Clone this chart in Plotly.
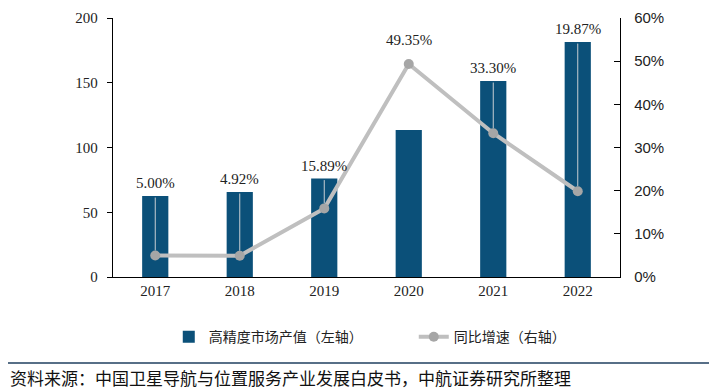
import plotly.graph_objects as go

years = ["2017", "2018", "2019", "2020", "2021", "2022"]
market_value = [62.5, 65.6, 76.0, 113.5, 151.3, 181.4]
growth_pct = [5.00, 4.92, 15.89, 49.35, 33.30, 19.87]
growth_labels = ["5.00%", "4.92%", "15.89%", "49.35%", "33.30%", "19.87%"]
left_ticks = [0, 50, 100, 150, 200]
right_ticks = [0, 10, 20, 30, 40, 50, 60]
right_tick_text = ["0%", "10%", "20%", "30%", "40%", "50%", "60%"]

BAR_COLOR = "#0B5079"
LINE_COLOR = "#BFBFBF"
MARKER_COLOR = "#A6A6A6"
SERIF = "Liberation Serif, Times New Roman, serif"
CJK = "Noto Sans CJK SC, sans-serif"

fig = go.Figure()
fig.add_trace(go.Bar(
    x=years, y=market_value, name="高精度市场产值（左轴）",
    marker=dict(color=BAR_COLOR, line=dict(width=0)), width=0.31,
    yaxis="y",
))
fig.add_trace(go.Scatter(
    x=years, y=growth_pct, name="同比增速（右轴）", mode="lines+markers",
    line=dict(color=LINE_COLOR, width=4),
    marker=dict(color=MARKER_COLOR, size=10),
    yaxis="y2",
))

# data labels with leader lines to the growth points
scale = 60 / 200
for i, (v, p, lab) in enumerate(zip(market_value, growth_pct, growth_labels)):
    bar_top = v * scale
    if p > bar_top:
        ly = p + 5.6
        show = False
    else:
        ly = bar_top + 3.0
        show = True
    if show:
        fig.add_annotation(x=i, y=p, xref="x", yref="y2", ax=i, ay=bar_top,
                           axref="x", ayref="y2", showarrow=True, arrowhead=0,
                           arrowwidth=1, arrowcolor="#C8CDD2", standoff=5, text="")
    fig.add_annotation(x=i, y=ly, xref="x", yref="y2", text=lab, showarrow=False,
                       font=dict(family=SERIF, size=15, color="#222"))

fig.update_layout(
    width=709, height=381,
    margin=dict(l=105, r=97, t=10, b=112, autoexpand=False),
    paper_bgcolor="white", plot_bgcolor="white",
    showlegend=True,
    legend=dict(orientation="h", x=0.11, y=-0.232, xanchor="left", yanchor="middle",
                font=dict(family=CJK, size=14, color="#222"),
                traceorder="normal", entrywidth=200, entrywidthmode="pixels"),
    xaxis=dict(type="category", range=[-0.5, 5.5], showline=True, linecolor="black",
               linewidth=1.3, ticks="", tickfont=dict(family=SERIF, size=15, color="#222"),
               showgrid=False),
    yaxis=dict(range=[0, 200], tickvals=left_ticks, showline=True, linecolor="black",
               linewidth=1.3, ticks="outside", ticklen=5, tickcolor="black",
               tickfont=dict(family=SERIF, size=15, color="#222"), showgrid=False,
               zeroline=False, ticklabelstandoff=6),
    yaxis2=dict(range=[0, 60], tickvals=right_ticks, ticktext=right_tick_text,
                overlaying="y", side="right", showline=True, linecolor="black",
                linewidth=1.3, ticks="inside", ticklen=6, tickcolor="black",
                tickfont=dict(family="Liberation Sans, Arial, sans-serif", size=15, color="#222"),
                showgrid=False, zeroline=False, ticklabelstandoff=10),
)

fig.add_shape(type="line", xref="paper", yref="paper", x0=-0.23, x1=1.2,
              y0=-0.332, y1=-0.332, line=dict(color="#1F3F5F", width=1.5))
fig.add_annotation(xref="paper", yref="paper", x=-0.207, y=-0.388, xanchor="left",
                   yanchor="middle", showarrow=False,
                   text="资料来源：中国卫星导航与位置服务产业发展白皮书，中航证券研究所整理",
                   font=dict(family=CJK, size=17, color="#111"))

fig.write_html("out.html")
